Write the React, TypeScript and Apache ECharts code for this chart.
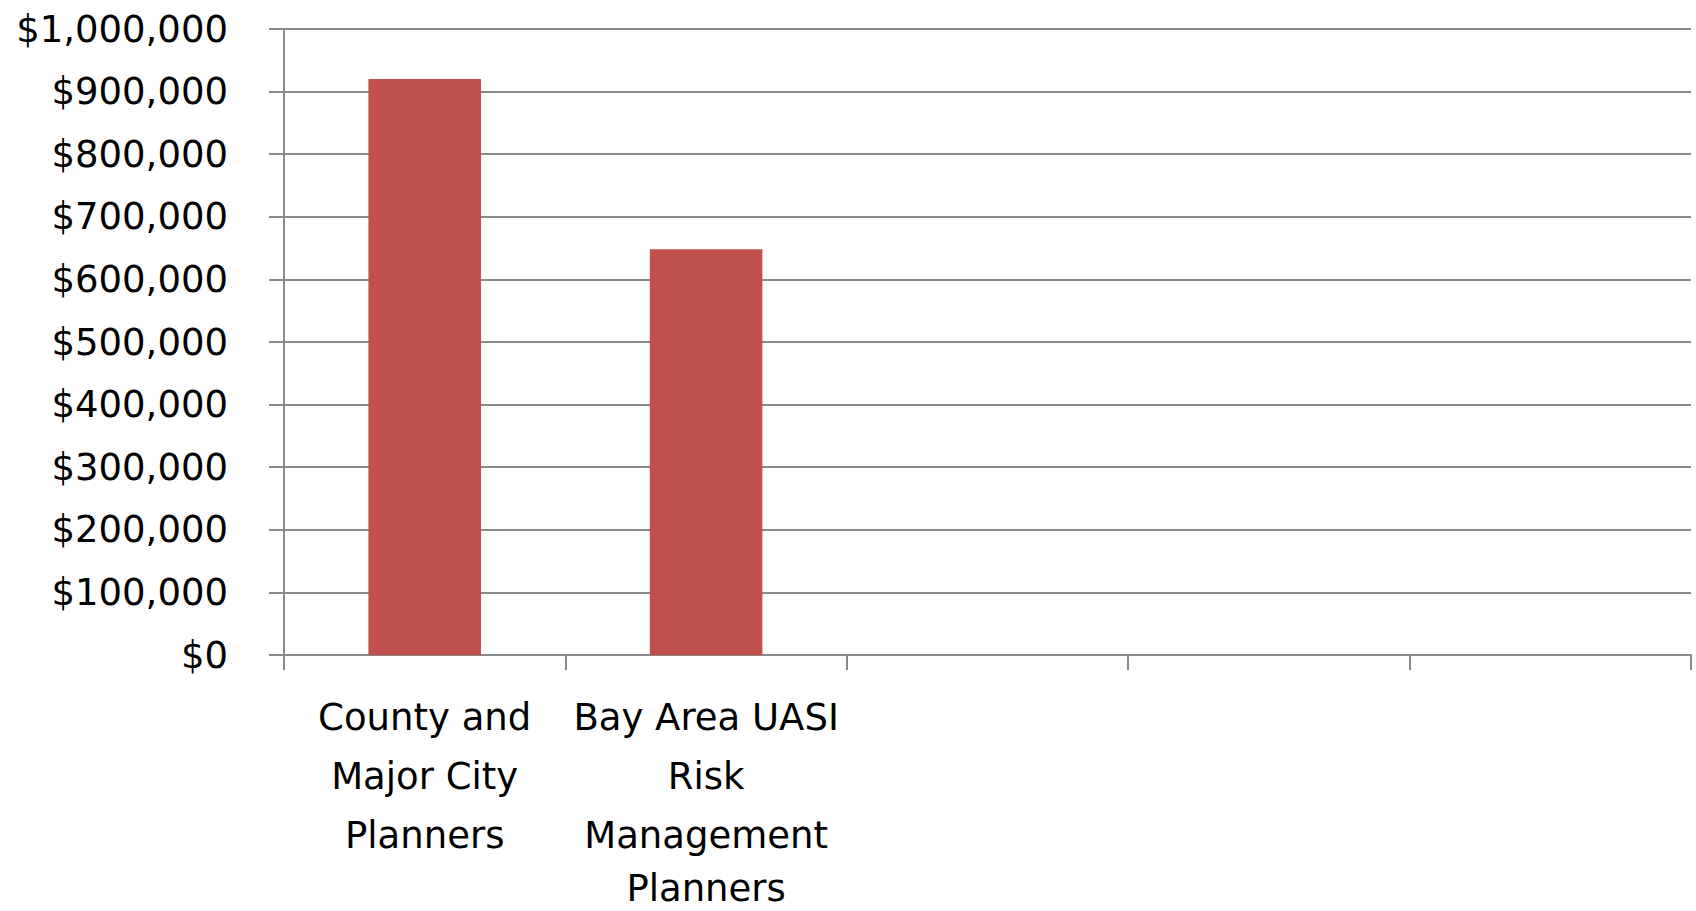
import React, { useEffect, useRef } from "react";
import * as echarts from "echarts";

const categories = [
  "County and\nMajor City\nPlanners",
  "Bay Area UASI\nRisk\nManagement\nPlanners",
  "",
  "",
  "",
];
const values: (number | null)[] = [920000, 648000, null, null, null];
const yMin = 0;
const yMax = 1000000;
const yStep = 100000;

const GRAY = "#8a8a8a";
const FONT = "'DejaVu Sans', 'Open Sans', sans-serif";

export default function App() {
  const ref = useRef<HTMLDivElement>(null);
  useEffect(() => {
    if (!ref.current) return;
    const chart = echarts.init(ref.current, undefined, { renderer: "svg" });
    chart.setOption({
      animation: false,
      backgroundColor: "#ffffff",
      grid: {
        left: 284,
        right: 5,
        top: 29,
        bottom: 256,
        containLabel: false,
        outerBoundsMode: "none",
      },
      xAxis: {
        type: "category",
        data: categories,
        axisLine: { show: true, lineStyle: { color: GRAY, width: 2 } },
        axisTick: { show: true, length: 15, lineStyle: { color: GRAY, width: 2 } },
        axisLabel: {
          interval: 0,
          margin: 33,
          color: "#000",
          fontFamily: FONT,
          fontSize: 37,
          lineHeight: 59,
          formatter: (v: string) => {
            if (!v) return "";
            const lines = v.split("\n");
            return lines
              .map((l, i) => (i === lines.length - 1 && lines.length > 3 ? `{last|${l}}` : `{n|${l}}`))
              .join("\n");
          },
          rich: {
            n: { fontFamily: FONT, fontSize: 37, lineHeight: 59, color: "#000" },
            last: {
              fontFamily: FONT,
              fontSize: 37,
              lineHeight: 33,
              padding: [13, 0, 0, 0],
              color: "#000",
            },
          },
        },
        splitLine: { show: false },
      },
      yAxis: {
        type: "value",
        min: yMin,
        max: yMax,
        interval: yStep,
        axisLine: { show: true, lineStyle: { color: GRAY, width: 2 } },
        axisTick: { show: true, length: 15, lineStyle: { color: GRAY, width: 2 } },
        axisLabel: {
          margin: 56,
          color: "#000",
          fontFamily: FONT,
          fontSize: 37,
          formatter: (v: number) => "$" + v.toLocaleString("en-US"),
        },
        splitLine: { show: true, lineStyle: { color: GRAY, width: 2 } },
      },
      series: [
        {
          type: "bar",
          data: values,
          barWidth: "40%",
          itemStyle: { color: "#C0504D" },
        },
      ],
    });
    return () => chart.dispose();
  }, []);
  return (
    <div
      ref={ref}
      style={{ position: "fixed", left: 0, top: 0, width: 1696, height: 911, background: "#fff" }}
    />
  );
}
